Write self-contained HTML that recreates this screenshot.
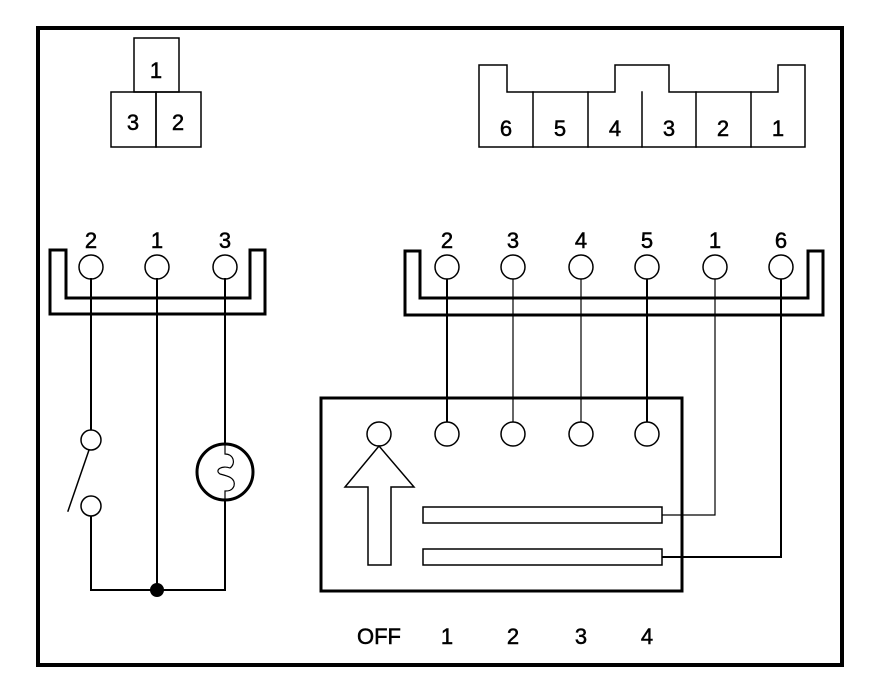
<!DOCTYPE html>
<html><head><style>html,body{margin:0;padding:0;background:#fff}svg{display:block}</style></head>
<body>
<svg width="896" height="690" viewBox="0 0 896 690" xmlns="http://www.w3.org/2000/svg" font-family="Liberation Sans, Arial, sans-serif" font-size="22" text-anchor="middle" stroke-linecap="square">
<rect x="38" y="28" width="804" height="637" fill="none" stroke="#000" stroke-width="4"/>
<g fill="none" stroke="#000" stroke-width="1.5">
<rect x="134" y="38" width="45" height="54"/>
<rect x="111" y="92" width="45" height="55"/>
<rect x="156" y="92" width="45" height="55"/>
</g>
<g stroke="#000" stroke-width="0.5">
<text x="156" y="78">1</text><text x="133" y="130">3</text><text x="178" y="130">2</text>
</g>
<g fill="none" stroke="#000" stroke-width="1.5">
<path d="M479,65 H507 V92 H615 V65 H669 V92 H778 V65 H805 V147 H479 Z"/>
<path d="M533,92 V147 M588,92 V147 M642,92 V147 M696,92 V147 M751,92 V147"/>
</g>
<g stroke="#000" stroke-width="0.5"><text x="506" y="136">6</text><text x="560" y="136">5</text><text x="615" y="136">4</text><text x="669" y="136">3</text><text x="723" y="136">2</text><text x="778" y="136">1</text></g>
<path d="M50,250 V314 H265 V250 H250 V298 H66 V250 Z" fill="none" stroke="#000" stroke-width="3"/>
<g fill="#fff" stroke="#000" stroke-width="1.5">
<circle cx="91" cy="267" r="12"/><circle cx="157" cy="267" r="12"/><circle cx="225" cy="267" r="12"/>
</g>
<g stroke="#000" stroke-width="0.5"><text x="91" y="248">2</text><text x="157" y="248">1</text><text x="225" y="248">3</text></g>
<g stroke="#000" stroke-width="2" fill="none">
<path d="M91,279 V430"/>
<path d="M91,516 V590 H225 V500"/>
<path d="M157,279 V590"/>
<path d="M225,279 V444"/>
</g>
<g fill="#fff" stroke="#000" stroke-width="1.5">
<circle cx="91" cy="440" r="10"/><circle cx="91" cy="506" r="10"/>
</g>
<line x1="89" y1="450" x2="68" y2="511" stroke="#000" stroke-width="1.5"/>
<circle cx="225" cy="472" r="28" fill="none" stroke="#000" stroke-width="3"/>
<path d="M225,444 V454 C234,454 236,464 230,468 C222,465 214,470 220,474 C228,476 236,478 234,486 C232,491 228,491 225,491 V500" fill="none" stroke="#000" stroke-width="1.2"/>
<circle cx="157" cy="590" r="7" fill="#000"/>
<path d="M405,251 V315 H823 V251 H808 V298 H420 V251 Z" fill="none" stroke="#000" stroke-width="3"/>
<g stroke="#000" fill="none">
<path d="M447,279 V422" stroke-width="2"/>
<path d="M513,279 V422" stroke-width="1.2"/>
<path d="M581,279 V422" stroke-width="1.2"/>
<path d="M647,279 V422" stroke-width="2"/>
<path d="M715,279 V515 H662" stroke-width="1.2"/>
<path d="M781,279 V557 H662" stroke-width="2"/>
</g>
<g fill="#fff" stroke="#000" stroke-width="1.5">
<circle cx="447" cy="267" r="12"/><circle cx="513" cy="267" r="12"/><circle cx="581" cy="267" r="12"/><circle cx="647" cy="267" r="12"/><circle cx="715" cy="267" r="12"/><circle cx="781" cy="267" r="12"/>
</g>
<g stroke="#000" stroke-width="0.5"><text x="447" y="248">2</text><text x="513" y="248">3</text><text x="581" y="248">4</text><text x="647" y="248">5</text><text x="715" y="248">1</text><text x="781" y="248">6</text></g>
<rect x="321" y="398" width="361" height="193" fill="none" stroke="#000" stroke-width="3"/>
<g fill="#fff" stroke="#000" stroke-width="1.5">
<circle cx="379" cy="434" r="12"/><circle cx="447" cy="434" r="12"/><circle cx="513" cy="434" r="12"/><circle cx="581" cy="434" r="12"/><circle cx="647" cy="434" r="12"/>
<path d="M379,446 L414,487 H391 V565 H368 V487 H345 Z"/>
<rect x="423" y="507" width="239" height="16"/>
<rect x="423" y="549" width="239" height="16"/>
</g>
<g stroke="#000" stroke-width="0.5"><text x="379" y="644">OFF</text><text x="447" y="644">1</text><text x="513" y="644">2</text><text x="581" y="644">3</text><text x="647" y="644">4</text></g>
</svg>
</body></html>
